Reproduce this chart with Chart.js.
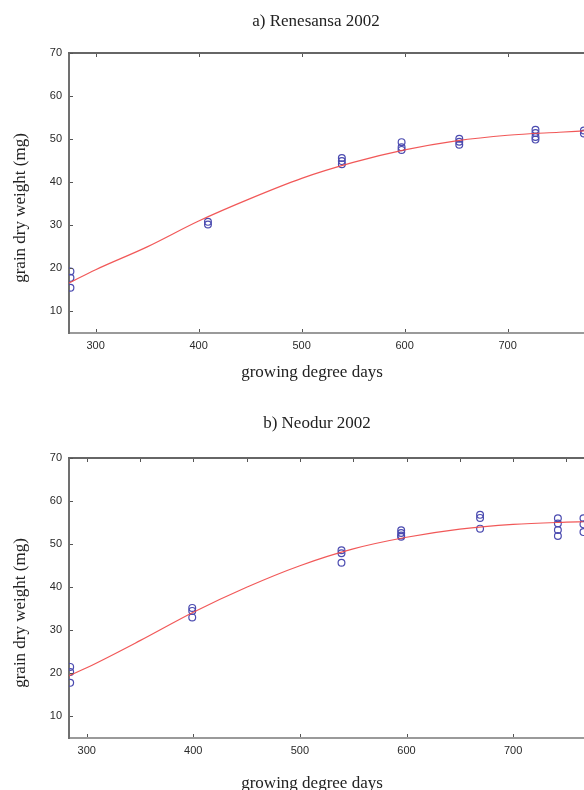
<!DOCTYPE html>
<html>
<head>
<meta charset="utf-8">
<script src="https://cdn.jsdelivr.net/npm/chart.js@4"></script>
<style>
  html, body { margin: 0; padding: 0; background: #fff; }
  body { width: 584px; height: 790px; overflow: hidden; position: relative; }
  canvas { position: absolute; left: 0; }
  .lbl {
    position: absolute;
    font-family: "Liberation Serif", "DejaVu Serif", serif;
    font-size: 17px;
    line-height: 20px;
    color: #222;
    white-space: nowrap;
    text-align: center;
  }
  .ytitle { width: 200px; height: 20px; transform: rotate(-90deg); }
</style>
</head>
<body>
<canvas id="chartA" width="584" height="395" style="top:0"></canvas>
<canvas id="chartB" width="584" height="395" style="top:395px"></canvas>

<div class="lbl" style="left:166px; width:300px; top:11px;">a) Renesansa 2002</div>
<div class="lbl" style="left:162px; width:300px; top:362px;">growing degree days</div>
<div class="lbl ytitle" style="left:-80px; top:198px;">grain dry weight (mg)</div>

<div class="lbl" style="left:167px; width:300px; top:413px;">b) Neodur 2002</div>
<div class="lbl" style="left:162px; width:300px; top:773px;">growing degree days</div>
<div class="lbl ytitle" style="left:-80px; top:603px;">grain dry weight (mg)</div>

<script>
// tick labels
const yTicks = [10, 20, 30, 40, 50, 60, 70];
const xTicks = [300, 400, 500, 600, 700];
const renesansaTopTicks = [300, 400, 500, 600, 700];
const neodurTopTicks = [300, 350, 400, 450, 500, 550, 600, 650, 700, 750];

// a) Renesansa 2002 - observations
const renesansaGdd = [275.5, 275.5, 275.5, 409, 409, 539, 539, 539, 597, 597, 597, 653, 653, 653, 727, 727, 727, 727, 774, 774];
const renesansaWeight = [19.3, 17.8, 15.5, 30.8, 30.2, 45.6, 44.9, 44.2, 49.3, 48.1, 47.5, 50.1, 49.4, 48.7, 52.2, 51.4, 50.5, 49.9, 52.0, 51.3];
// a) fitted curve
const renesansaFitGdd = [274, 300, 350, 400, 450, 500, 550, 600, 650, 700, 750, 774];
const renesansaFitWeight = [16.6, 19.7, 25.0, 31.0, 36.2, 40.9, 44.6, 47.5, 49.6, 50.9, 51.6, 51.9];

// b) Neodur 2002 - observations
const neodurGdd = [284.5, 284.5, 284.5, 399, 399, 399, 539, 539, 539, 595, 595, 595, 595, 669, 669, 669, 742, 742, 742, 742, 766, 766, 766];
const neodurWeight = [21.5, 20.3, 17.8, 35.2, 34.5, 33.0, 48.6, 47.9, 45.7, 53.2, 52.6, 52.0, 51.7, 56.8, 56.1, 53.6, 56.0, 54.8, 53.3, 51.9, 56.0, 54.6, 52.8];
// b) fitted curve
const neodurFitGdd = [283, 300, 350, 400, 450, 500, 550, 600, 650, 700, 750, 766];
const neodurFitWeight = [19.4, 21.3, 27.6, 34.2, 40.0, 45.0, 48.9, 51.6, 53.5, 54.6, 55.1, 55.2];

const toPoints = (xs, ys) => xs.map((x, i) => ({ x, y: ys[i] }));

// small inward tick marks + top frame line
const innerTicks = {
  id: 'innerTicks',
  afterDraw(chart, args, opts) {
    const { ctx, chartArea: a, scales } = chart;
    ctx.save();
    ctx.strokeStyle = '#666';
    ctx.lineWidth = 2;
    ctx.beginPath();
    ctx.moveTo(a.left - 1, a.top);
    ctx.lineTo(a.right, a.top);
    ctx.stroke();
    ctx.lineWidth = 1;
    ctx.strokeStyle = '#555';
    ctx.beginPath();
    opts.bottom.forEach((v) => {
      const px = Math.round(scales.x.getPixelForValue(v)) + 0.5;
      ctx.moveTo(px, a.bottom - 1);
      ctx.lineTo(px, a.bottom - 4);
    });
    opts.top.forEach((v) => {
      const px = Math.round(scales.x.getPixelForValue(v)) + 0.5;
      ctx.moveTo(px, a.top + 1);
      ctx.lineTo(px, a.top + 4);
    });
    opts.left.forEach((v) => {
      const py = Math.round(scales.y.getPixelForValue(v)) + 0.5;
      ctx.moveTo(a.left + 1, py);
      ctx.lineTo(a.left + 4, py);
    });
    ctx.stroke();
    ctx.restore();
  }
};

function makePanel(id, obsX, obsY, fitX, fitY, xMin, xMax, topTicks, padTop, xHeight) {
  return new Chart(document.getElementById(id), {
    type: 'scatter',
    data: {
      datasets: [
        {
          data: toPoints(fitX, fitY),
          showLine: true,
          borderColor: 'rgba(240, 70, 70, 0.9)',
          borderWidth: 1.2,
          pointRadius: 0,
          cubicInterpolationMode: 'monotone'
        },
        {
          data: toPoints(obsX, obsY),
          showLine: false,
          pointStyle: 'circle',
          pointRadius: 3.4,
          borderColor: '#4b4bb0',
          borderWidth: 1.2,
          backgroundColor: 'rgba(0,0,0,0)',
          clip: { left: 0, top: false, right: false, bottom: false }
        }
      ]
    },
    options: {
      responsive: false,
      animation: false,
      events: [],
      layout: { autoPadding: false, padding: { top: padTop, left: 0, right: 0, bottom: 0 } },
      plugins: {
        legend: { display: false },
        tooltip: { enabled: false },
        innerTicks: { bottom: xTicks, top: topTicks, left: yTicks }
      },
      scales: {
        x: {
          type: 'linear',
          min: xMin,
          max: xMax,
          afterBuildTicks: (scale) => { scale.ticks = xTicks.map((v) => ({ value: v })); },
          afterFit: (scale) => {
            scale.height = xHeight;
            scale.paddingLeft = 0;
            scale.paddingRight = 0;
          },
          ticks: {
            padding: 6,
            maxRotation: 0,
            autoSkip: false,
            color: '#2a2a2a',
            font: { family: '"Liberation Sans", Arial, sans-serif', size: 11 }
          },
          grid: { drawOnChartArea: false, drawTicks: false },
          border: { color: '#9a9a9a', width: 2 }
        },
        y: {
          type: 'linear',
          min: 5,
          max: 70,
          afterBuildTicks: (scale) => { scale.ticks = yTicks.map((v) => ({ value: v })); },
          afterFit: (scale) => {
            scale.width = 69;
            scale.paddingTop = 0;
            scale.paddingBottom = 0;
          },
          ticks: {
            padding: 7,
            color: '#2a2a2a',
            font: { family: '"Liberation Sans", Arial, sans-serif', size: 11 }
          },
          grid: { drawOnChartArea: false, drawTicks: false },
          border: { color: '#707070', width: 2 }
        }
      }
    },
    plugins: [innerTicks]
  });
}

makePanel('chartA', renesansaGdd, renesansaWeight, renesansaFitGdd, renesansaFitWeight, 274.1, 774.1, renesansaTopTicks, 53, 62);
makePanel('chartB', neodurGdd, neodurWeight, neodurFitGdd, neodurFitWeight, 283.4, 766.5, neodurTopTicks, 63, 52);
</script>
</body>
</html>
